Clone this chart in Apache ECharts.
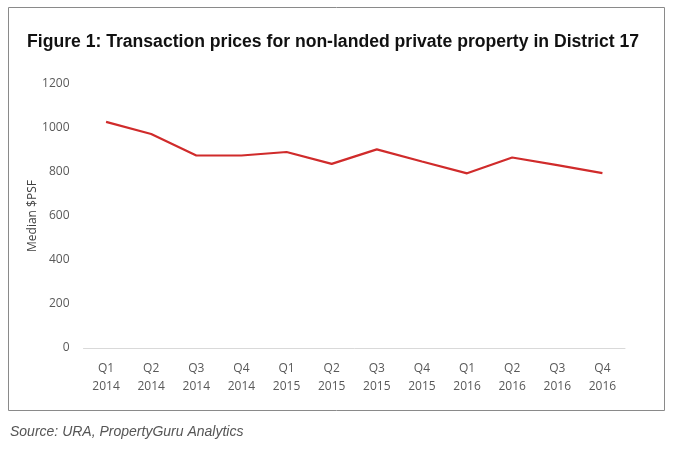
<!DOCTYPE html>
<html>
<head>
<meta charset="utf-8">
<script src="https://cdn.jsdelivr.net/npm/echarts@6/dist/echarts.min.js"></script>
<style>html,body{margin:0;padding:0;background:#fff}#c{width:674px;height:449px}</style>
</head>
<body>
<div id="c"></div>
<script>
const categories = ['Q1\n2014','Q2\n2014','Q3\n2014','Q4\n2014','Q1\n2015','Q2\n2015','Q3\n2015','Q4\n2015','Q1\n2016','Q2\n2016','Q3\n2016','Q4\n2016'];
const medianPsf = [1028, 973, 875, 875, 891, 837, 903, 848, 794, 866, 831, 795];
const yTicks = {min: 0, max: 1200, interval: 200};

const chart = echarts.init(document.getElementById('c'));
chart.setOption({
  animation: false,
  backgroundColor: '#fff',
  graphic: [
    {type: 'rect', shape: {x: 8.5, y: 7.5, width: 656, height: 403}, style: {fill: 'none', stroke: '#8a8a8a', lineWidth: 1}},
    {type: 'text', left: 10, top: 425, style: {text: 'Source: URA, PropertyGuru Analytics', font: 'italic 14px "Liberation Sans", Arial, sans-serif', fill: '#555'}}
  ],
  title: {
    text: 'Figure 1: Transaction prices for non-landed private property in District 17',
    left: 22, top: 28,
    textStyle: {fontFamily: '"Liberation Sans", Arial, sans-serif', fontWeight: 'bold', fontSize: 17.6, color: '#111'}
  },
  grid: {left: 83.5, right: 49, top: 84, bottom: 101},
  xAxis: {
    type: 'category', data: categories, boundaryGap: true,
    axisLine: {lineStyle: {color: '#d9d9d9'}},
    axisTick: {show: false},
    axisLabel: {color: '#595959', fontSize: 12, lineHeight: 18, margin: 12, fontFamily: '"Open Sans", "Noto Sans", sans-serif'}
  },
  yAxis: {
    type: 'value', min: yTicks.min, max: yTicks.max, interval: yTicks.interval,
    name: 'Median $PSF', nameLocation: 'middle', nameGap: 45, nameRotate: 90, nameMoveOverlap: false,
    nameTextStyle: {color: '#404040', fontSize: 12, fontFamily: '"Open Sans", "Noto Sans", sans-serif'},
    splitLine: {show: false},
    axisLine: {show: false}, axisTick: {show: false},
    axisLabel: {color: '#595959', fontSize: 12, margin: 14, formatter: v => String(v), fontFamily: '"Open Sans", "Noto Sans", sans-serif'}
  },
  series: [{
    type: 'line', data: medianPsf, symbol: 'none',
    lineStyle: {color: '#d02b2b', width: 2.2}
  }]
});
</script>
</body>
</html>
